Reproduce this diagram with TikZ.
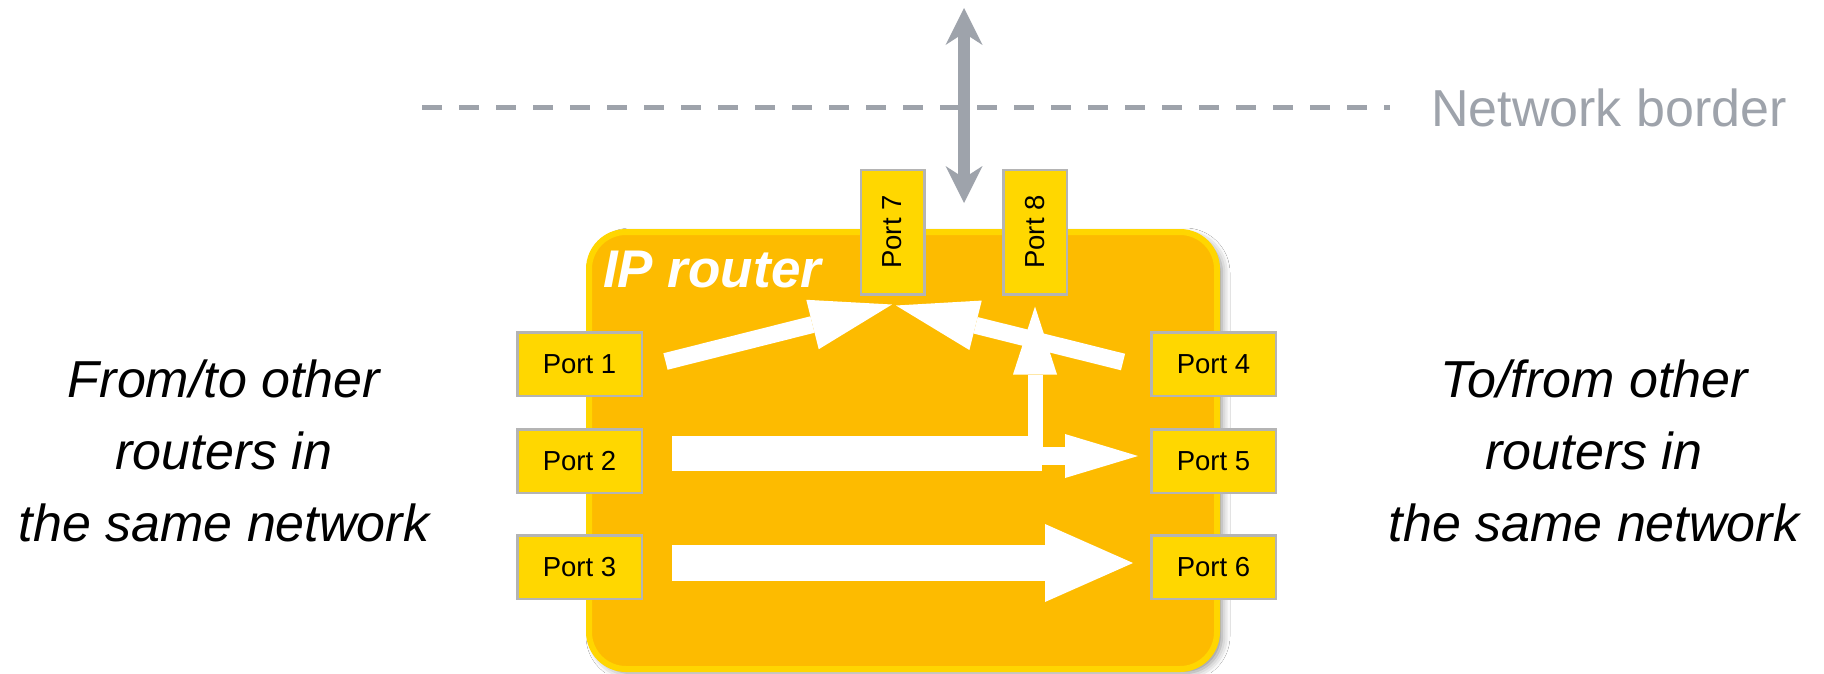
\documentclass[tikz,border=0pt]{standalone}
\usepackage{fontspec}
\setmainfont{Liberation Sans}
\usetikzlibrary{arrows.meta,calc,shadows.blur}
\definecolor{routerfill}{HTML}{FDBB00}
\definecolor{routeredge}{HTML}{FFD600}
\definecolor{portfill}{HTML}{FFD700}
\definecolor{portedge}{HTML}{B4B4B4}
\definecolor{netgray}{HTML}{9EA3AB}
\begin{document}
\begin{tikzpicture}[x=1pt,y=-1pt,
  port/.style={draw=portedge, fill=portfill, line width=2.5pt,
    minimum width=124.5pt, minimum height=63.5pt, inner sep=0pt,
    font=\fontsize{27.5}{30}\selectfont, text=black},
  router/.style={draw=routeredge, fill=routerfill, line width=6pt,
    rounded corners=37pt, minimum width=628pt, minimum height=437pt, inner sep=0pt,
    blur shadow={shadow xshift=5pt, shadow yshift=-4pt, shadow blur radius=8pt, shadow opacity=45}},
  side/.style={anchor=base, inner sep=0pt, font=\fontsize{52}{60}\selectfont\itshape, text=black},
  whitearrow/.style={draw=white, line cap=butt},
  bighead/.style args={#1/#2}{-{Triangle[length=#1pt,width=#2pt,line width=0pt]}},
  grayhead/.tip={Stealth[length=37pt,width=37pt,inset=12pt,line width=0pt]}
]
\useasboundingbox (0,0) rectangle (1824,673);
\fill[white] (0,0) rectangle (1824,673);

% network border
\coordinate (dl) at (422,107);
\coordinate (dr) at (1390,107);
\draw[netgray, line width=5pt, dash pattern=on 20pt off 17pt] (dl) -- (dr);
\node[anchor=base west, inner sep=0pt, text=netgray, font=\fontsize{52}{60}\selectfont] (nb) at (1431,126) {Network border};

% router
\node[router] (router) at (903,450.5) {};
\node[anchor=base west, inner sep=0pt, text=white, font=\fontsize{53}{60}\selectfont\bfseries\itshape] (iplabel) at ($(router.north west)+(17,58)$) {IP router};

% ports
\node[port] (p1) at (579.5,364) {Port 1};
\node[port] (p2) at (579.5,461) {Port 2};
\node[port] (p3) at (579.5,567) {Port 3};
\node[port] (p4) at (1213.5,364) {Port 4};
\node[port] (p5) at (1213.5,461) {Port 5};
\node[port] (p6) at (1213.5,567) {Port 6};
\node[port, rotate=90] (p7) at (892.5,232) {Port 7};
\node[port, rotate=90] (p8) at (1035,232) {Port 8};

% uplink arrow
\coordinate (up) at (964,8);
\coordinate (down) at (964,203);
\draw[netgray, line width=12pt, grayhead-grayhead] (up) -- (down);

% white flow arrows
\draw[whitearrow, line width=17pt, bighead=82/51] ($(p1.east)+(22.5,-2.5)$) -- ($(p7.west)+(-0.5,9)$);
\draw[whitearrow, line width=17pt, bighead=82/51] ($(p4.west)+(-27,-2)$) -- ($(p7.west)+(3.5,10)$);

\coordinate (split) at (1035,456);
\draw[whitearrow, line width=35pt] ($(p2.east)+(29,-7.5)$) -- ($(split)+(7,-2.5)$);
\draw[whitearrow, line width=15pt, bighead=68/44] (split) -- ($(p8.west)+(0,11)$);
\draw[whitearrow, line width=18pt, bighead=73/44] ($(split)+(7,0)$) -- ($(p5.west)+(-12,-5)$);

\draw[whitearrow, line width=36pt, bighead=88/78] ($(p3.east)+(29,-4)$) -- ($(p6.west)+(-17,-4)$);

% side texts
\node[side] (l1) at (224,397) {From/to other};
\node[side] (l2) at (224,469) {routers in};
\node[side] (l3) at (224,541) {the same network};
\node[side] (r1) at (1594,397) {To/from other};
\node[side] (r2) at (1594,469) {routers in};
\node[side] (r3) at (1594,541) {the same network};
\end{tikzpicture}
\end{document}
